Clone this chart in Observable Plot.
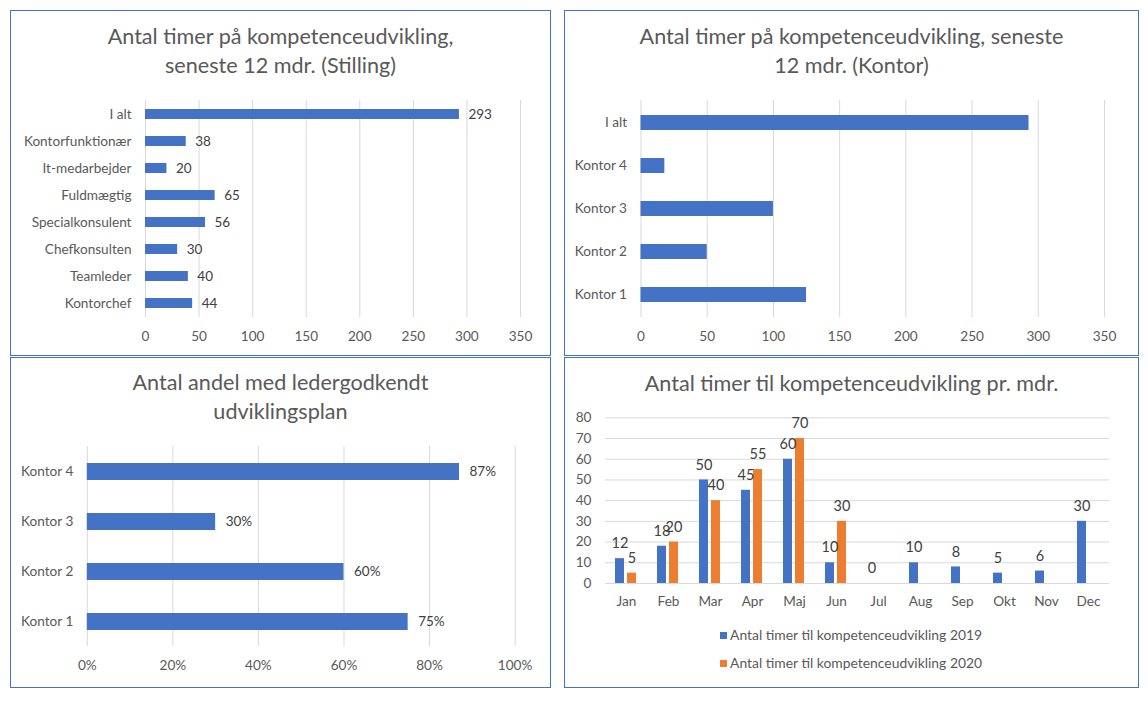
<!DOCTYPE html>
<html><head><meta charset="utf-8">
<script src="https://cdn.jsdelivr.net/npm/d3@7"></script>
<script src="https://cdn.jsdelivr.net/npm/@observablehq/plot@0.6"></script>
<style>
body{margin:0;background:#fff;font-family:Lato, sans-serif;}
#root{position:relative;width:1148px;height:702px;overflow:hidden;}
.panel{position:absolute;box-sizing:border-box;border:1px solid #4472C4;background:#fff;}
.title{position:absolute;left:0;right:0;text-align:center;color:#595959;font-size:21.6px;line-height:29px;white-space:nowrap;}
.plot{position:absolute;left:0;}
.legend{position:absolute;font-size:13.9px;color:#595959;white-space:nowrap;}
.legend .row{position:absolute;left:0;height:16px;line-height:16px;}
.legend .sw{display:inline-block;width:7px;height:7px;margin-right:3px;vertical-align:1px;}
</style></head>
<body>
<div id="root">
  <div class="panel" id="p1" style="left:10px;top:10px;width:541px;height:346px;">
    <div class="title" style="top:11px;">Antal timer på kompetenceudvikling,<br>seneste 12 mdr. (Stilling)</div>
    <div class="plot" id="c1" style="top:80px;"></div>
  </div>
  <div class="panel" id="p2" style="left:564px;top:10px;width:575px;height:346px;">
    <div class="title" style="top:11px;">Antal timer på kompetenceudvikling, seneste<br>12 mdr. (Kontor)</div>
    <div class="plot" id="c2" style="top:80px;"></div>
  </div>
  <div class="panel" id="p3" style="left:10px;top:357px;width:541px;height:331px;">
    <div class="title" style="top:10px;">Antal andel med ledergodkendt<br>udviklingsplan</div>
    <div class="plot" id="c3" style="top:80px;"></div>
  </div>
  <div class="panel" id="p4" style="left:564px;top:357px;width:575px;height:331px;">
    <div class="title" style="top:11px;">Antal timer til kompetenceudvikling pr. mdr.</div>
    <div class="plot" id="c4" style="top:50px;"></div>
    <div class="legend" id="lg" style="left:155px;top:0px;"></div>
  </div>
</div>
<script>
// ---- data ----
const stillingCats = ["I alt","Kontorfunktionær","It-medarbejder","Fuldmægtig","Specialkonsulent","Chefkonsulten","Teamleder","Kontorchef"];
const stillingHours = [293,38,20,65,56,30,40,44];
const kontorCats = ["I alt","Kontor 4","Kontor 3","Kontor 2","Kontor 1"];
const kontorHours = [293,18,100,50,125];
const planCats = ["Kontor 4","Kontor 3","Kontor 2","Kontor 1"];
const planShares = [0.87,0.30,0.60,0.75];
const months = ["Jan","Feb","Mar","Apr","Maj","Jun","Jul","Aug","Sep","Okt","Nov","Dec"];
const hours2019 = [12,18,50,45,60,10,0,10,8,5,6,30];
const hours2020 = [5,20,40,55,70,30,null,null,null,null,null,null];
const seriesNames = ["Antal timer til kompetenceudvikling 2019","Antal timer til kompetenceudvikling 2020"];
const hourTicks = [0,50,100,150,200,250,300,350];
const pctTicks = [0,0.2,0.4,0.6,0.8,1];
const monthTicks = [0,10,20,30,40,50,60,70,80];

const BLUE = "#4472C4", ORANGE = "#ED7D31", GRID = "#D9D9D9", TXT = "#595959", LBL = "#404040";
const baseStyle = {fontFamily:"Lato, sans-serif", fontSize:"13.6px", color:TXT, background:"transparent", overflow:"visible"};

function hbar(el, o){
  const data = o.cats.map((c,i)=>({cat:c, value:o.values[i]}));
  const chart = Plot.plot({
    width:o.width, height:o.height,
    marginTop:o.mt, marginBottom:o.mb, marginLeft:o.ml, marginRight:o.mr,
    style: baseStyle,
    x:{domain:o.xDomain},
    y:{domain:o.cats, paddingInner:o.pi, paddingOuter:o.po},
    marks:[
      Plot.gridX(o.ticks, {stroke:GRID, strokeOpacity:1, strokeWidth:1}),
      Plot.axisX(o.ticks, {tickSize:0, tickPadding:14, tickFormat:o.tickFormat, label:null}),
      Plot.axisY({tickSize:0, tickPadding:o.yPad, label:null}),
      Plot.barX(data, {x:"value", y:"cat", fill:BLUE}),
      o.labels ? Plot.text(data, {x:"value", y:"cat", text:d=>o.labelFormat(d.value), dx:o.dx, textAnchor:"start", fill:LBL, fontSize:13.5}) : null
    ]
  });
  document.getElementById(el).appendChild(chart);
}

hbar("c1", {cats:stillingCats, values:stillingHours, width:539, height:264, mt:9, mb:38, ml:134, mr:30,
  xDomain:[0,350], ticks:hourTicks, tickFormat:d=>String(d), pi:0.63, po:0.315, yPad:14, labels:true, labelFormat:d=>String(d), dx:9});
hbar("c2", {cats:kontorCats, values:kontorHours, width:573, height:264, mt:9, mb:38, ml:75.5, mr:34,
  xDomain:[0,350], ticks:hourTicks, tickFormat:d=>String(d), pi:0.65, po:0.325, yPad:14, labels:false});
hbar("c3", {cats:planCats, values:planShares, width:539, height:248, mt:8, mb:40, ml:75.8, mr:35.4,
  xDomain:[0,1], ticks:pctTicks, tickFormat:d=>Math.round(d*100)+"%", pi:0.66, po:0.33, yPad:14, labels:true, labelFormat:d=>Math.round(d*100)+"%", dx:10});

// monthly grouped bars
const table = [];
months.forEach((m,i)=>{
  table.push({month:m, series:seriesNames[0], value:hours2019[i]});
  table.push({month:m, series:seriesNames[1], value:hours2020[i]});
});
const c4 = Plot.plot({
  width:573, height:207, marginTop:9.3, marginBottom:32, marginLeft:38, marginRight:26.4,
  style: baseStyle,
  fx:{domain:months, padding:0, label:null},
  x:{domain:seriesNames, paddingInner:0.23, paddingOuter:0.742, axis:null},
  y:{domain:[0,80]},
  color:{domain:seriesNames, range:[BLUE, ORANGE]},
  marks:[
    Plot.gridY(monthTicks, {stroke:GRID, strokeOpacity:1, strokeWidth:1}),
    Plot.axisY(monthTicks, {tickSize:0, tickPadding:14, label:null}),
    Plot.axisFx({anchor:"bottom", tickSize:0, tickPadding:13, label:null}),
    Plot.barY(table.filter(d=>d.value!=null), {fx:"month", x:"series", y:"value", fill:"series"}),
    Plot.text(table.filter(d=>d.value!=null), {fx:"month", x:"series", y:"value", text:d=>String(d.value), dy:-15, fill:LBL, fontSize:14.5})
  ]
});
document.getElementById("c4").appendChild(c4);

// legend
const lg = document.getElementById("lg");
const colors = [BLUE, ORANGE];
const rowTops = [269, 297];
seriesNames.forEach((s,i)=>{
  const r = document.createElement("div");
  r.className = "row";
  r.style.top = rowTops[i] + "px";
  const sw = document.createElement("span");
  sw.className = "sw"; sw.style.background = colors[i];
  r.appendChild(sw);
  r.appendChild(document.createTextNode(s));
  lg.appendChild(r);
});
</script>
</body></html>
